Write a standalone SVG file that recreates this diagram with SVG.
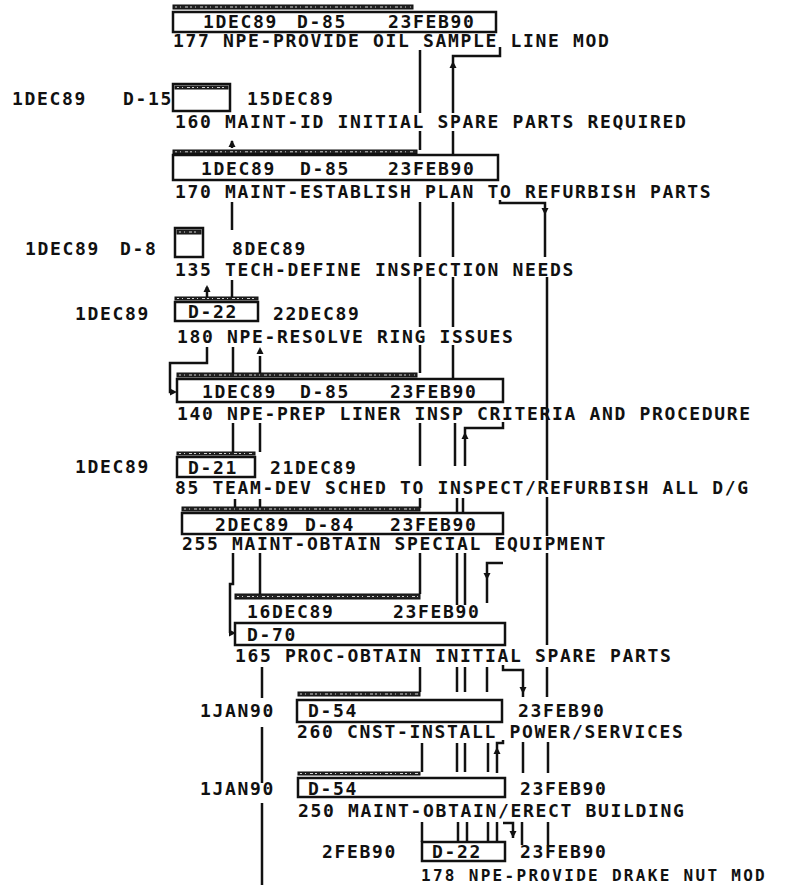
<svg xmlns="http://www.w3.org/2000/svg" width="785" height="885" viewBox="0 0 785 885">
<style>
.t{font-family:"DejaVu Sans Mono","Liberation Mono",monospace;font-size:18px;letter-spacing:1.66px;font-weight:bold;fill:#111}
.box{fill:none;stroke:#111;stroke-width:2.5}
.bar{fill:#222;stroke:#111;stroke-width:1}
.spk{fill:none;stroke:#fff;stroke-width:0.8;stroke-dasharray:2 3 1 4 3 2}
.c{fill:none;stroke:#111;stroke-width:2.5}
.ah{fill:#111}
</style>
<defs>
<path id="au" class="ah" d="M0,0 L-3.5,7 L3.5,7 Z"/>
<path id="ad" class="ah" d="M0,0 L-3.5,-7 L3.5,-7 Z"/>
<path id="ar" class="ah" d="M0,0 L-7,-3.5 L-7,3.5 Z"/>
</defs>
<rect width="785" height="885" fill="#fff"/>
<g id="connectors">
<path class="c" d="M420,50 V113 M420,131 V150 M420,202 V257 M420,277 V327 M420,345 V373 M420,423 V466 M420,498 V508 M420,553 V594 M420,667 V692 M422,743 V772 M422,822 V842"/>
<path class="c" d="M500,47 V56 H453 V113 M453,131 V155 M453,202 V257 M453,277 V327 M453,345 V379 M455,423 V466 M457,498 V513 M457,553 V605 M457,667 V692 M457,743 V772 M458,822 V842"/>
<path class="c" d="M503,422 V428 H465 V466 M463,498 V513 M465,553 V605 M465,667 V692 M465,743 V772 M467,822 V842"/>
<path class="c" d="M503,563 H487 V603 M487,667 V692 M488,743 V772 M488,822 V842"/>
<path class="c" d="M503,740 V743 H497 V773 M497,822 V842"/>
<path class="c" d="M503,665 V670 H523 V697 M523,742 V773 M522,822 V845"/>
<path class="c" d="M503,823 H513 V838"/>
<path class="c" d="M500,200 V203 H545 V257 M547,277 V480 M547,497 V536 M547,553 V645 M547,667 V697 M548,742 V773 M548,822 V845"/>
<path class="c" d="M232,148 V141 M232,202 V230 M232,280 V297 M207,298 V287 M207,347 V363 H170 V392 H172 M233,347 V373 M260,356 V373 M233,423 V452 M260,423 V452 M235,499 V507 M260,499 V507 M233,553 V584 H230 V633 H230 M260,553 V594 M262,667 V698 M262,727 V783 M262,803 V885"/>
<use href="#au" x="232" y="140"/>
<use href="#au" x="207" y="285"/>
<use href="#au" x="260" y="347"/>
<use href="#ad" x="545" y="215"/>
<use href="#ar" x="177" y="392"/>
<use href="#ar" x="236" y="633"/>
<use href="#au" x="453" y="61"/>
<use href="#au" x="465" y="432"/>
<use href="#ad" x="487" y="580"/>
<use href="#ad" x="523" y="694"/>
<use href="#au" x="497" y="747"/>
<use href="#ad" x="513" y="838"/>
</g>
<g id="n177">
<rect class="bar" x="173" y="5" width="240" height="4"/>
<path class="spk" d="M175,7 H411"/>
<rect class="box" x="173" y="12" width="323" height="20"/>
<text class="t" x="203" y="28">1DEC89</text>
<text class="t" x="297" y="28">D-85</text>
<text class="t" x="388" y="28">23FEB90</text>
<text class="t" x="173" y="47">177 NPE-PROVIDE OIL SAMPLE LINE MOD</text>
</g>
<g id="n160">
<text class="t" x="12" y="105">1DEC89</text>
<text class="t" x="123" y="105">D-15</text>
<rect class="box" x="173" y="84" width="57" height="27"/>
<rect class="bar" x="175" y="86" width="53" height="3"/>
<path class="spk" d="M177,87.5 H226"/>
<text class="t" x="247" y="105">15DEC89</text>
<text class="t" x="175" y="128">160 MAINT-ID INITIAL SPARE PARTS REQUIRED</text>
</g>
<g id="n170">
<rect class="bar" x="173" y="150" width="244" height="3.5"/>
<path class="spk" d="M175,151.8 H415"/>
<rect class="box" x="173" y="155" width="325" height="25"/>
<text class="t" x="201" y="175">1DEC89</text>
<text class="t" x="300" y="175">D-85</text>
<text class="t" x="388" y="175">23FEB90</text>
<text class="t" x="175" y="198">170 MAINT-ESTABLISH PLAN TO REFURBISH PARTS</text>
</g>
<g id="n135">
<text class="t" x="25" y="255">1DEC89</text>
<text class="t" x="120" y="255">D-8</text>
<rect class="box" x="175" y="228" width="28" height="29"/>
<rect class="bar" x="177" y="230" width="24" height="4"/>
<path class="spk" d="M179,232 H199"/>
<text class="t" x="232" y="255">8DEC89</text>
<text class="t" x="175" y="276">135 TECH-DEFINE INSPECTION NEEDS</text>
</g>
<g id="n180">
<text class="t" x="75" y="320">1DEC89</text>
<rect class="bar" x="175" y="297" width="83" height="3"/>
<path class="spk" d="M177,298.5 H256"/>
<rect class="box" x="175" y="302" width="83" height="19"/>
<text class="t" x="188" y="318">D-22</text>
<text class="t" x="273" y="320">22DEC89</text>
<text class="t" x="177" y="343">180 NPE-RESOLVE RING ISSUES</text>
</g>
<g id="n140">
<rect class="bar" x="177" y="373" width="240" height="4"/>
<path class="spk" d="M179,375 H415"/>
<rect class="box" x="177" y="379" width="326" height="23"/>
<text class="t" x="202" y="398">1DEC89</text>
<text class="t" x="300" y="398">D-85</text>
<text class="t" x="390" y="398">23FEB90</text>
<text class="t" x="177" y="420">140 NPE-PREP LINER INSP CRITERIA AND PROCEDURE</text>
</g>
<g id="n85">
<text class="t" x="75" y="473">1DEC89</text>
<rect class="bar" x="177" y="452" width="78" height="3"/>
<path class="spk" d="M179,453.5 H253"/>
<rect class="box" x="177" y="457" width="78" height="20"/>
<text class="t" x="188" y="474">D-21</text>
<text class="t" x="270" y="474">21DEC89</text>
<text class="t" x="175" y="494">85 TEAM-DEV SCHED TO INSPECT/REFURBISH ALL D/G</text>
</g>
<g id="n255">
<rect class="bar" x="182" y="507" width="238" height="4"/>
<path class="spk" d="M184,509 H418"/>
<rect class="box" x="182" y="513" width="321" height="21"/>
<text class="t" x="215" y="531">2DEC89</text>
<text class="t" x="305" y="531">D-84</text>
<text class="t" x="390" y="531">23FEB90</text>
<text class="t" x="182" y="550">255 MAINT-OBTAIN SPECIAL EQUIPMENT</text>
</g>
<g id="n165">
<rect class="bar" x="235" y="594" width="185" height="5"/>
<path class="spk" d="M237,596.5 H418"/>
<text class="t" x="247" y="618">16DEC89</text>
<text class="t" x="393" y="618">23FEB90</text>
<rect class="box" x="235" y="623" width="270" height="22"/>
<text class="t" x="247" y="641">D-70</text>
<text class="t" x="235" y="662">165 PROC-OBTAIN INITIAL SPARE PARTS</text>
</g>
<g id="n260">
<text class="t" x="200" y="717">1JAN90</text>
<rect class="bar" x="298" y="692" width="122" height="4"/>
<path class="spk" d="M300,694 H418"/>
<rect class="box" x="297" y="700" width="205" height="22"/>
<text class="t" x="308" y="717">D-54</text>
<text class="t" x="518" y="717">23FEB90</text>
<text class="t" x="297" y="738">260 CNST-INSTALL POWER/SERVICES</text>
</g>
<g id="n250">
<text class="t" x="200" y="795">1JAN90</text>
<rect class="bar" x="298" y="772" width="122" height="3"/>
<path class="spk" d="M300,773.5 H418"/>
<rect class="box" x="298" y="778" width="207" height="19"/>
<text class="t" x="308" y="795">D-54</text>
<text class="t" x="520" y="795">23FEB90</text>
<text class="t" x="298" y="817">250 MAINT-OBTAIN/ERECT BUILDING</text>
</g>
<g id="n178">
<text class="t" x="322" y="858">2FEB90</text>
<rect class="box" x="422" y="842" width="83" height="19"/>
<text class="t" x="432" y="858">D-22</text>
<text class="t" x="520" y="858">23FEB90</text>
<text class="t" x="421" y="881" style="font-size:16px;letter-spacing:2.3px">178 NPE-PROVIDE DRAKE NUT MOD</text>
</g>
</svg>
